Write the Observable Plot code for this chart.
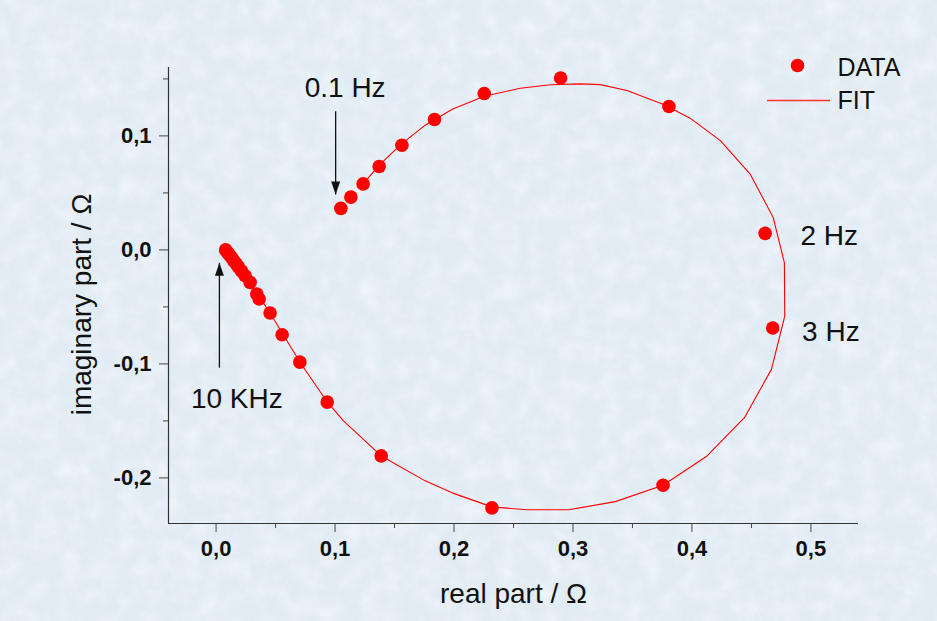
<!DOCTYPE html>
<html>
<head>
<meta charset="utf-8">
<script src="https://cdn.jsdelivr.net/npm/d3@7"></script>
<script src="https://cdn.jsdelivr.net/npm/@observablehq/plot@0.6"></script>
<style>
  html, body { margin: 0; padding: 0; overflow: hidden; }
  body {
    width: 937px; height: 621px;
    background-color: #e1ebf4;
    background-image: url("data:image/svg+xml;utf8,<svg xmlns='http://www.w3.org/2000/svg' width='937' height='621'><filter id='n'><feTurbulence type='fractalNoise' baseFrequency='0.05' numOctaves='4' seed='7'/><feColorMatrix values='0 0 0 0 1  0 0 0 0 1  0 0 0 0 1  0 0 0 0.8 -0.28'/></filter><rect width='100%' height='100%' filter='url(%23n)'/></svg>");
    font-family: "Liberation Sans", Arial, sans-serif;
  }
  #chart svg { display: block; background: transparent; }
</style>
</head>
<body>
<div id="chart"></div>
<script>
// ---- measured impedance data (from 10 kHz down to 0.1 Hz) ----
const realPart = [0.0080, 0.0097, 0.0114, 0.0130, 0.0147, 0.0168, 0.0189, 0.0214, 0.0244, 0.0286,
                  0.0342, 0.0362, 0.0454, 0.0555, 0.0704, 0.0934, 0.1388, 0.2319, 0.3757, 0.4679,
                  0.4615, 0.3807, 0.2896, 0.2254, 0.1836, 0.1562, 0.1371, 0.1236, 0.1133, 0.1049];
const imagPart = [0.0000, -0.0024, -0.0046, -0.0067, -0.0094, -0.0120, -0.0151, -0.0186, -0.0227, -0.0285,
                  -0.0387, -0.0431, -0.0554, -0.0744, -0.0984, -0.1335, -0.1807, -0.2263, -0.2064, -0.0685,
                  0.0145, 0.1258, 0.1508, 0.1372, 0.1144, 0.0918, 0.0732, 0.0579, 0.0463, 0.0364];

// ---- fit curve vertices ----
const fitReal = [0.0084, 0.0244, 0.0454, 0.0704, 0.0934, 0.1071, 0.1388, 0.1758, 0.2002, 0.2319,
                 0.2613, 0.2963, 0.3356, 0.3757, 0.4121, 0.4441, 0.4668, 0.4780, 0.4777, 0.4682,
                 0.4491, 0.4239, 0.3981, 0.3762, 0.3454, 0.3230, 0.3061, 0.2809, 0.2557, 0.2254,
                 0.1985, 0.1758, 0.1562, 0.1371, 0.1236];
const fitImag = [-0.0002, -0.0230, -0.0554, -0.0983, -0.1334, -0.1500, -0.1807, -0.2026, -0.2138, -0.2254,
                 -0.2280, -0.2280, -0.2208, -0.2064, -0.1813, -0.1472, -0.1048, -0.0580, -0.0113, 0.0287,
                 0.0662, 0.0959, 0.1158, 0.1275, 0.1398, 0.1450, 0.1456, 0.1449, 0.1418, 0.1348,
                 0.1234, 0.1094, 0.0932, 0.0743, 0.0579];

// ---- ticks ----
const xMajorTicks = [0, 0.1, 0.2, 0.3, 0.4, 0.5];
const xMinorTicks = [0.05, 0.15, 0.25, 0.35, 0.45];
const yMajorTicks = [-0.2, -0.1, 0, 0.1];
const yMinorTicks = [-0.15, -0.05, 0.05, 0.15];

// ---- annotations (data coordinates) ----
const annLabels = ["0.1 Hz", "10 KHz", "2 Hz", "3 Hz"];
const annX = [0.1085, 0.0174, 0.4912, 0.4926];
const annY = [0.1421, -0.1311, 0.0126, -0.0720];
const annAnchor = ["middle", "middle", "start", "start"];

const arrowX = [0.1005, 0.0028];
const arrowFromY = [0.1216, -0.1033];
const arrowToY = [0.0486, -0.0113];

const legendLabels = ["DATA", "FIT"];

// ---- build tables ----
const points = realPart.map((x, i) => ({x, y: imagPart[i]}));
const fit = fitReal.map((x, i) => ({x, y: fitImag[i]}));
const anns = annLabels.map((t, i) => ({t, x: annX[i], y: annY[i], a: annAnchor[i]}));
const arrows = arrowX.map((x, i) => ({x, y1: arrowFromY[i], y2: arrowToY[i], dir: arrowToY[i] < arrowFromY[i] ? "down" : "up"}));

const FONT = "Liberation Sans, Arial, sans-serif";
const fmt = d => (d < 0 ? "-" : "") + Math.abs(d).toFixed(1).replace(".", ",");

const headDown = {draw(c) { c.moveTo(0, 0); c.lineTo(-4.5, -13); c.lineTo(4.5, -13); c.closePath(); }};
const headUp = {draw(c) { c.moveTo(0, 0); c.lineTo(-4.5, 13); c.lineTo(4.5, 13); c.closePath(); }};
const legendLine = {draw(c) { c.moveTo(-31.5, 0); c.lineTo(31.5, 0); }};

const textStyle = {fill: "#111", fontFamily: FONT};

const chart = Plot.plot({
  width: 937,
  height: 621,
  marginLeft: 168,
  marginRight: 79,
  marginTop: 67,
  marginBottom: 98,
  style: {background: "transparent", fontFamily: FONT},
  x: {domain: [-0.04, 0.54]},
  y: {domain: [-0.24, 0.16]},
  marks: [
    // axes
    Plot.ruleX([-0.04], {stroke: "#333", strokeWidth: 1.2}),
    Plot.ruleY([-0.24], {stroke: "#333", strokeWidth: 1.2}),
    Plot.axisX(xMajorTicks, {tickSize: 9, tickPadding: 8, tickFormat: fmt, fontSize: 22, fontWeight: "bold", fontFamily: FONT, stroke: "#444", fill: "#111", label: null}),
    Plot.axisX(xMinorTicks, {tickSize: 5, tickFormat: () => "", stroke: "#444", label: null}),
    Plot.axisY(yMajorTicks, {tickSize: 9, tickPadding: 8, tickFormat: fmt, fontSize: 22, fontWeight: "bold", fontFamily: FONT, stroke: "#444", fill: "#111", label: null}),
    Plot.axisY(yMinorTicks, {tickSize: 5, tickFormat: () => "", stroke: "#444", label: null}),
    // axis titles
    Plot.text(["real part / Ω"], {frameAnchor: "bottom", lineAnchor: "middle", textAnchor: "middle", dy: 71, fontSize: 28, ...textStyle}),
    Plot.text(["imaginary part / Ω"], {frameAnchor: "left", lineAnchor: "middle", textAnchor: "middle", dx: -86, dy: 9, rotate: -90, fontSize: 28, ...textStyle}),
    // fit and data
    Plot.line(fit, {x: "x", y: "y", stroke: "#ff0000", strokeWidth: 1.1}),
    Plot.dot(points, {x: "x", y: "y", r: 6.8, fill: "#ff0000", stroke: "none"}),
    // annotations
    Plot.link(arrows, {x1: "x", x2: "x", y1: "y1", y2: "y2", stroke: "#111", strokeWidth: 1.3}),
    Plot.dot(arrows, {x: "x", y: "y2", symbol: d => d.dir === "down" ? headDown : headUp, fill: "#111", stroke: "none"}),
    Plot.text(anns.filter(d => d.a === "middle"), {x: "x", y: "y", text: "t", textAnchor: "middle", fontSize: 28, ...textStyle}),
    Plot.text(anns.filter(d => d.a === "start"), {x: "x", y: "y", text: "t", textAnchor: "start", fontSize: 28, ...textStyle}),
    // legend
    Plot.dot([legendLabels[0]], {frameAnchor: "top-left", dx: 629, dy: -2, r: 6.8, fill: "#ff0000", stroke: "none"}),
    Plot.dot([legendLabels[1]], {frameAnchor: "top-left", dx: 630, dy: 33, symbol: legendLine, stroke: "#ff3333", strokeWidth: 1.6, fill: "none"}),
    Plot.text([legendLabels[0]], {frameAnchor: "top-left", lineAnchor: "middle", dx: 669, dy: 0, textAnchor: "start", fontSize: 25, ...textStyle}),
    Plot.text([legendLabels[1]], {frameAnchor: "top-left", lineAnchor: "middle", dx: 669, dy: 33, textAnchor: "start", fontSize: 25, ...textStyle})
  ]
});
document.getElementById("chart").appendChild(chart);
</script>
</body>
</html>
